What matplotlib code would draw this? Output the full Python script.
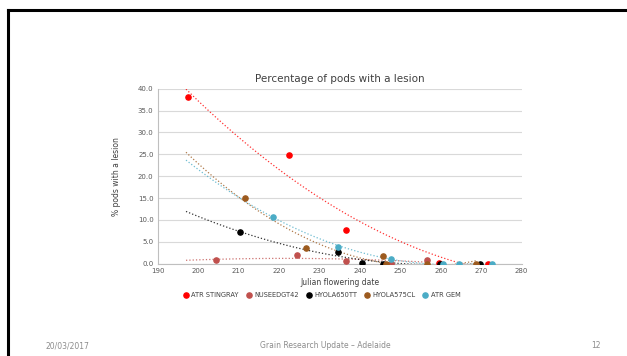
import numpy as np
import matplotlib
matplotlib.use("Agg")
import matplotlib.pyplot as plt
from matplotlib.lines import Line2D

# values
names = ["ATR STINGRAY", "NUSEEDGT42", "HYOLA650TT", "HYOLA575CL", "ATR GEM"]
colors = ["#FF0000", "#C0504D", "#000000", "#9C5A1E", "#4BACC6"]

stingray_x = [197.4, 222.5, 236.6, 259.6, 271.6]
stingray_y = [38.2, 24.9, 7.6, 0.2, 0.0]
nuseed_x = [204.4, 224.5, 236.6, 247.6, 256.5]
nuseed_y = [0.75, 2.1, 0.6, 0.0, 0.9]
h650_x = [210.4, 234.5, 240.5, 245.6, 259.7, 269.6]
h650_y = [7.2, 2.65, 0.25, 0.0, 0.0, 0.0]
h575_x = [211.6, 226.6, 245.6, 246.5, 256.6, 268.7]
h575_y = [15.1, 3.7, 1.7, 0.0, 0.0, 0.0]
gem_x = [218.6, 234.5, 247.7, 260.6, 264.6, 272.6]
gem_y = [10.7, 3.9, 1.0, 0.0, 0.0, 0.0]

xs = [stingray_x, nuseed_x, h650_x, h575_x, gem_x]
ys = [stingray_y, nuseed_y, h650_y, h575_y, gem_y]

fig = plt.figure(figsize=(6.27, 3.56), dpi=100)

# slide frame (top and left edges)
fig.add_artist(Line2D([0.012, 1.0], [0.972, 0.972], color="black", lw=2.2))
fig.add_artist(Line2D([0.013, 0.013], [0.0, 0.972], color="black", lw=2.2))

ax = fig.add_axes([0.2515, 0.2593, 0.5805, 0.4916])

for x, y, c, n in zip(xs, ys, colors, names):
    # excel-like polynomial trendline
    coef = np.polyfit(x, y, 2)
    tx = np.linspace(197, max(x), 100)
    ax.plot(tx, np.polyval(coef, tx), linestyle=":", color=c, lw=0.9, alpha=0.8)
    ax.scatter(x, y, s=14, color=c, zorder=3, label=n)

ax.set_xlim(190, 280)
ax.set_ylim(0, 40)
ax.set_xticks(np.arange(190, 281, 10))
ax.set_yticks(np.arange(0, 40.1, 5))
ax.set_yticklabels([f"{v:.1f}" for v in np.arange(0, 40.1, 5)])
ax.grid(axis="y", color="#D9D9D9", lw=0.8)
ax.set_axisbelow(True)
for s in ["top", "right"]:
    ax.spines[s].set_visible(False)
ax.spines["left"].set_color("#BFBFBF")
ax.spines["bottom"].set_color("#BFBFBF")
ax.spines["left"].set_linewidth(0.8)
ax.spines["bottom"].set_linewidth(0.8)
ax.tick_params(length=0, labelsize=5, colors="#595959", pad=3)

ax.set_title("Percentage of pods with a lesion", fontsize=7.5, color="#404040", pad=5)
ax.set_xlabel("Julian flowering date", fontsize=5.5, color="#404040", labelpad=3)
ax.set_ylabel("% pods with a lesion", fontsize=5.5, color="#404040", labelpad=12)

ax.legend(loc="upper center", bbox_to_anchor=(0.45, -0.125), ncol=5, frameon=False,
          fontsize=4.8, handletextpad=0.3, columnspacing=1.0, markerscale=1.0,
          labelcolor="#404040", handlelength=1.0)

# footer
fig.text(46 / 627, 1 - 346 / 356, "20/03/2017", fontsize=5.5, color="#8C8C8C", va="center")
fig.text(325 / 627, 1 - 346 / 356, "Grain Research Update \u2013 Adelaide", fontsize=5.5,
         color="#8C8C8C", va="center", ha="center")
fig.text(596 / 627, 1 - 346 / 356, "12", fontsize=5.5, color="#8C8C8C", va="center", ha="center")

fig.savefig("out.png", dpi=100)
